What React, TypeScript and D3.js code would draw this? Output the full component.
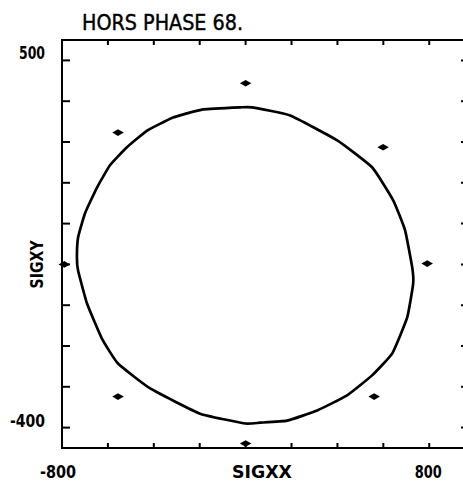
import * as d3 from "d3";

// Yield locus, traced clockwise from the top (SIGXX, SIGXY)
const curveX = [-24, 28, 194, 399, 551, 643, 695, 726, 730, 704, 639, 551, 442, 312, 181, 63, -2, -198, -416, -556, -626, -691, -730, -735, -730, -700, -647, -591, -517, -429, -316, -185];
const curveY = [385, 385, 365, 304, 238, 157, 83, -8, -47, -130, -218, -272, -321, -358, -383, -388, -390, -366, -304, -243, -182, -96, -15, 17, 66, 125, 189, 243, 287, 328, 360, 380];

// Measured stress points
const pointX = [-556, 0, 599, 791, 560, -556, 0, -790];
const pointY = [323, 444, 287, 2, -324, -324, -439, 0];

const xTicks = [-600, -400, -200, 0, 200, 400, 600, 800];
const yTicks = [-400, -300, -200, -100, 0, 100, 200, 300, 400, 500];
const xLabels = [-800, 800];
const yLabels = [500, -400];

const title = "HORS PHASE 68.";

export default function App() {
  const width = 463;
  const height = 482;
  const left = 62;
  const top = 40;
  const right = 474;
  const bottom = 448;

  const x = d3.scaleLinear().domain([-800, 995]).range([left, right]);
  const y = d3.scaleLinear().domain([-450, 550]).range([bottom, top]);

  const pts = curveX.map((v, i) => [v, curveY[i]] as [number, number]);
  const line = d3
    .line<[number, number]>()
    .x((d) => x(d[0]))
    .y((d) => y(d[1]))
    .curve(d3.curveCardinalClosed.tension(0.6));

  const marker = d3.symbol().type(d3.symbolDiamond).size(38)();
  const font = "'DejaVu Sans Condensed', 'Liberation Sans Narrow', sans-serif";

  // label widths measured on the plot, keeps the narrow plotter look
  const labelWidth = (t: number) => (String(t).length === 3 ? 27 : 36);

  return (
    <svg
      width={width}
      height={height}
      style={{ position: "absolute", left: 0, top: 0, background: "#fff", overflow: "hidden" }}
    >
      <rect x={0} y={0} width={width} height={height} fill="#fff" />

      {/* title */}
      <text
        x={82}
        y={30}
        fontFamily={font}
        fontSize={21}
        stroke="#000"
        strokeWidth={0.4}
        textLength={161}
        lengthAdjust="spacingAndGlyphs"
        fill="#000"
      >
        {title}
      </text>

      {/* frame: the right side runs off the page */}
      <path
        d={`M${right},${top}H${left}V${bottom}H${right}`}
        fill="none"
        stroke="#000"
        strokeWidth={2}
      />

      {/* ticks */}
      {xTicks.map((t) => (
        <g key={"xt" + t}>
          <line x1={x(t)} x2={x(t)} y1={bottom} y2={bottom - 5} stroke="#000" strokeWidth={2} />
          <line x1={x(t)} x2={x(t)} y1={top} y2={top + 5} stroke="#000" strokeWidth={2} />
        </g>
      ))}
      {yTicks.map((t) => (
        <g key={"yt" + t}>
          <line x1={left} x2={left + 8} y1={y(t)} y2={y(t)} stroke="#000" strokeWidth={2} />
          <line x1={right} x2={right - 13} y1={y(t)} y2={y(t)} stroke="#000" strokeWidth={2} />
        </g>
      ))}

      {/* tick labels */}
      {xLabels.map((t) => (
        <text
          key={"xl" + t}
          x={x(t) - (t < 0 ? 4 : 1)}
          y={478}
          textAnchor="middle"
          fontFamily={font}
          fontWeight="bold"
          fontSize={18}
          textLength={labelWidth(t)}
          lengthAdjust="spacingAndGlyphs"
          fill="#000"
        >
          {t}
        </text>
      ))}
      {yLabels.map((t) => (
        <text
          key={"yl" + t}
          x={45}
          y={y(t) - 1}
          textAnchor="end"
          fontFamily={font}
          fontWeight="bold"
          fontSize={18}
          textLength={labelWidth(t) - 1}
          lengthAdjust="spacingAndGlyphs"
          fill="#000"
        >
          {t}
        </text>
      ))}

      {/* axis titles */}
      <text
        x={262}
        y={478}
        textAnchor="middle"
        fontFamily={font}
        fontWeight="bold"
        fontSize={18}
        textLength={60}
        lengthAdjust="spacingAndGlyphs"
        fill="#000"
      >
        SIGXX
      </text>
      <text
        transform={`translate(43,${y(0)}) rotate(-90)`}
        textAnchor="middle"
        fontFamily={font}
        fontWeight="bold"
        fontSize={18}
        textLength={48}
        lengthAdjust="spacingAndGlyphs"
        fill="#000"
      >
        SIGXY
      </text>

      {/* locus */}
      <path d={line(pts) ?? ""} fill="none" stroke="#000" strokeWidth={2.7} />

      {/* points */}
      {pointX.map((v, i) => (
        <path
          key={"p" + i}
          d={marker ?? ""}
          transform={`translate(${x(v)},${y(pointY[i])}) rotate(90)`}
          fill="#000"
        />
      ))}
    </svg>
  );
}
